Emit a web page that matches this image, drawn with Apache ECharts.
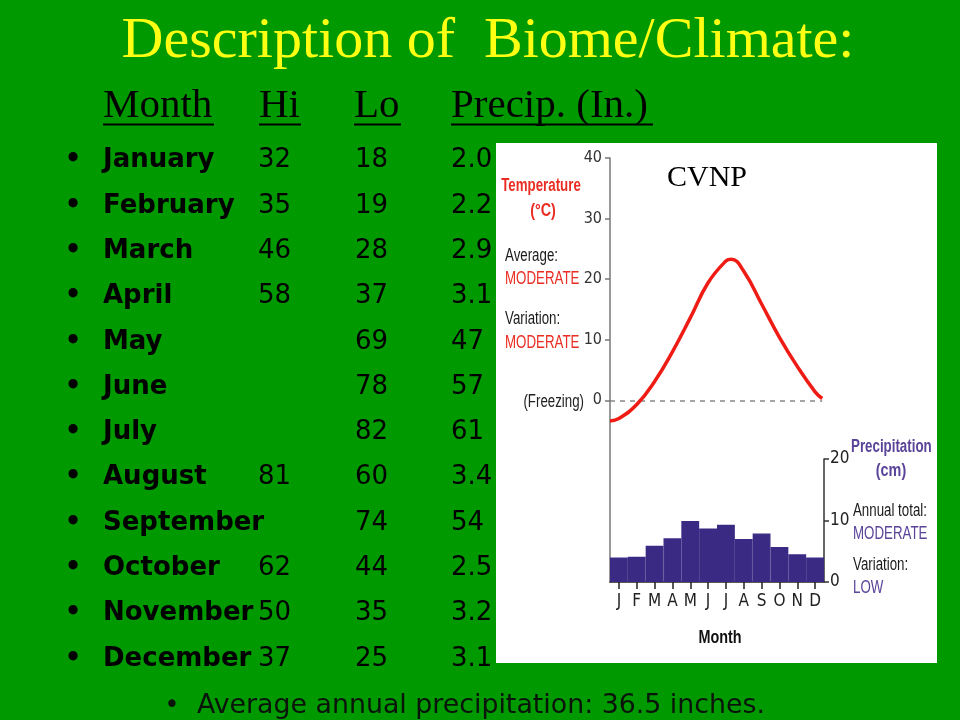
<!DOCTYPE html>
<html><head><meta charset="utf-8">
<script src="https://cdn.jsdelivr.net/npm/echarts@6/dist/echarts.min.js"></script>
<style>html,body{margin:0;padding:0;background:#009900}#c{width:960px;height:720px}</style>
</head><body><div id="c"></div>
<script>
// ---- table (as displayed on the slide) ----
const tableMonths = ['January','February','March','April','May','June','July','August','September','October','November','December'];
const colHi = ['32','35','46','58','','','','81','','62','50','37'];
const colLo = ['18','19','28','37','69','78','82','60','74','44','35','25'];
const colPrecip = ['2.0','2.2','2.9','3.1','47','57','61','3.4','54','2.5','3.2','3.1'];
const headers = ['Month','Hi','Lo','Precip. (In.)'];
const titleText = 'Description of  Biome/Climate:';
const footText = 'Average annual precipitation: 36.5 inches.';

// ---- climate chart ----
const monthInitials = ['J','F','M','A','M','J','J','A','S','O','N','D'];
const precipCm = [4.0, 4.1, 5.9, 7.1, 9.9, 8.7, 9.3, 7.0, 7.9, 5.7, 4.5, 4.0];
const tempMonthPos = [0, 0.5, 1.5, 2.5, 3.5, 4.5, 5.5, 6.5, 6.8, 7.5, 8.5, 9.5, 10.5, 11.5, 11.9];
const tempC = [-3.4, -3.0, -0.7, 3.1, 8.0, 13.6, 19.4, 23.0, 23.3, 21.3, 15.9, 10.4, 5.6, 1.4, 0.3];
const tempTicks = [0, 10, 20, 30, 40];

const COND = "'DejaVu Sans Condensed','Liberation Sans Narrow','Arial Narrow',sans-serif";
const HELV = "'Liberation Sans',Arial,Helvetica,sans-serif";
const SERIF = "'Liberation Serif','Times New Roman',serif";
const SANS = "'DejaVu Sans',Verdana,sans-serif";
const RED = '#ea2d22';
const PURPLE = '#5a4398';
const BAR = '#3b2a84';

const chart = echarts.init(document.getElementById('c'));

const g = [];
function txt(x, y, text, font, color, align, z, sx) {
  g.push({type:'text', x:x, y:y, z: z||1, scaleX: sx||1,
    style:{text:text, font:font, fill:color, align:align||'left', verticalAlign:'middle'}});
}
// title
txt(488, 42, titleText, '58px ' + SERIF, '#ffff14', 'center');
// headers
const headerX = [103, 259, 354, 451];
const headerEnd = [214, 301, 401, 653];
headers.forEach((h, i) => {
  txt(headerX[i], 106, h, '41px ' + SERIF, '#000', 'left');
  g.push({type:'line', z:1, shape:{x1:headerX[i], y1:124.5, x2:headerEnd[i], y2:124.5}, style:{stroke:'#000', lineWidth:2}});
});
// rows
tableMonths.forEach((m, i) => {
  const y = 160.5 + i * 45.32;
  txt(73, y, '\u2022', 'bold 26px ' + SANS, '#000', 'center');
  txt(103, y, m, 'bold 26px ' + SANS, '#000', 'left');
  txt(258, y, colHi[i], '26px ' + SANS, '#000', 'left');
  txt(355, y, colLo[i], '26px ' + SANS, '#000', 'left');
  txt(451, y, colPrecip[i], '26px ' + SANS, '#000', 'left');
});
txt(172, 706, '\u2022', '26px ' + SANS, '#0a140a', 'center');
txt(197, 706, footText, '26.8px ' + SANS, '#0a140a', 'left');
// white panel
g.push({type:'rect', z:2, shape:{x:496, y:143, width:441, height:520}, style:{fill:'#ffffff'}});
// chart annotations (condensed Helvetica look)
const SX = 0.76;
txt(541, 186, 'Temperature', 'bold 18px ' + HELV, RED, 'center', 10, 0.74);
txt(543, 211, '(\u00B0C)', 'bold 18px ' + HELV, RED, 'center', 10, 0.8);
txt(505, 256, 'Average:', '17.5px ' + HELV, '#1a1a1a', 'left', 10, SX);
txt(505, 279, 'MODERATE', '17.5px ' + HELV, RED, 'left', 10, SX);
txt(505, 319, 'Variation:', '17.5px ' + HELV, '#1a1a1a', 'left', 10, SX);
txt(505, 343, 'MODERATE', '17.5px ' + HELV, RED, 'left', 10, SX);
txt(584, 402, '(Freezing)', '17.5px ' + HELV, '#222', 'right', 10, SX);
txt(667, 178, 'CVNP', '30px ' + SERIF, '#000', 'left', 10);
txt(851, 447, 'Precipitation', 'bold 18px ' + HELV, PURPLE, 'left', 10, 0.74);
txt(891, 471, '(cm)', 'bold 18px ' + HELV, PURPLE, 'center', 10, 0.8);
txt(853, 511, 'Annual total:', '17.5px ' + HELV, '#1a1a1a', 'left', 10, SX);
txt(853, 534, 'MODERATE', '17.5px ' + HELV, PURPLE, 'left', 10, SX);
txt(853, 565, 'Variation:', '17.5px ' + HELV, '#1a1a1a', 'left', 10, SX);
txt(853, 588, 'LOW', '17.5px ' + HELV, PURPLE, 'left', 10, SX);
txt(720, 638, 'Month', 'bold 18px ' + HELV, '#111', 'center', 10, 0.8);

const option = {
  backgroundColor: '#009900',
  animation: false,
  graphic: {elements: g},
  grid: [
    {left: 610, top: 158, width: 214, height: 424, show: false},
    {left: 610, top: 459, width: 214, height: 123, show: false}
  ],
  xAxis: [
    {type:'value', gridIndex:0, min:0, max:12, show:false},
    {type:'category', gridIndex:1, data: monthInitials, z:5,
      axisLine:{show:true, lineStyle:{color:'#222', width:1.5}},
      axisTick:{show:true, alignWithLabel:true, length:7, lineStyle:{color:'#222', width:1.5}},
      axisLabel:{color:'#222', fontFamily: COND, fontSize:17, margin:11, interval:0},
      splitLine:{show:false}}
  ],
  yAxis: [
    {type:'value', gridIndex:0, min:-30, max:40, interval:10, z:5,
      axisLine:{show:true, lineStyle:{color:'#777', width:1.5}},
      axisTick:{show:true, length:5, customValues: tempTicks, lineStyle:{color:'#777', width:1.5}},
      axisLabel:{customValues: tempTicks, color:'#333', fontFamily: COND, fontSize:16, margin:8},
      splitLine:{show:false}},
    {type:'value', gridIndex:1, position:'right', min:0, max:20, interval:10, z:5,
      axisLine:{show:true, lineStyle:{color:'#333', width:1.5}},
      axisTick:{show:true, length:5, lineStyle:{color:'#333', width:1.5}},
      axisLabel:{color:'#222', fontFamily: COND, fontSize:17, margin:6},
      splitLine:{show:false}}
  ],
  series: [
    {type:'bar', xAxisIndex:1, yAxisIndex:1, data: precipCm, barCategoryGap:'0%', z:6,
      itemStyle:{color: BAR, borderColor: BAR, borderWidth: 1.4}},
    {type:'line', xAxisIndex:0, yAxisIndex:0, z:7, smooth:0.45, symbol:'none',
      data: tempMonthPos.map((p, i) => [p, tempC[i]]),
      lineStyle:{color:'#ee1c14', width:3.5},
      markLine:{silent:true, symbol:'none', label:{show:false},
        lineStyle:{color:'#888', type:[5,5], width:1.5},
        data:[[{coord:[0,0]},{coord:[11.9,0]}]]}}
  ]
};
chart.setOption(option);
</script></body></html>
